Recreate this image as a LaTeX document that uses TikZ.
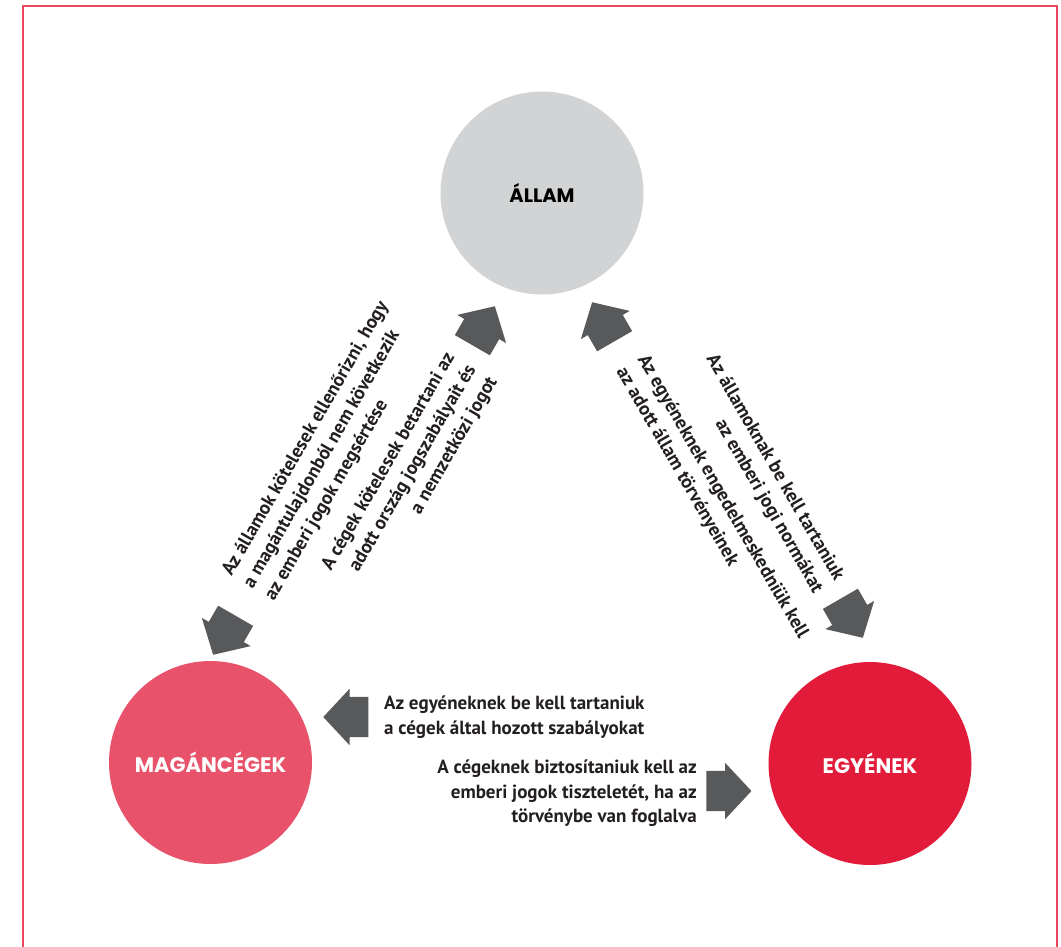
\documentclass[tikz,border=0pt]{standalone}
\usepackage{fontspec}
\setmainfont{PT Sans}
\newfontfamily\circfont{Poppins}
\usetikzlibrary{shapes.arrows}
\definecolor{bordercol}{HTML}{E8475F}
\definecolor{statecol}{HTML}{D1D3D4}
\definecolor{compcol}{HTML}{E8536B}
\definecolor{indivcol}{HTML}{E31B3A}
\definecolor{arrowcol}{HTML}{58595B}
\definecolor{txtcol}{HTML}{231F20}
\begin{document}
\begin{tikzpicture}[x=1pt,y=-1pt,
  actor/.style={circle, minimum size=203pt, inner sep=0pt, font=\circfont\bfseries\fontsize{21}{24}\selectfont},
  blockarrow/.style={single arrow, fill=arrowcol, draw=none, inner xsep=0pt, inner ysep=20pt, minimum height=45pt, single arrow head extend=8pt, single arrow tip angle=94, anchor=tip},
  caption/.style={inner sep=0pt, text=txtcol, font=\bfseries\fontsize{19}{24.5}\selectfont},
]
\useasboundingbox (0,0) rectangle (1061,946);
\fill[white] (0,0) rectangle (1061,946);
\coordinate (bl) at (23,960);
\coordinate (tl) at (23,6);
\coordinate (tr) at (1057,6);
\coordinate (br) at (1057,960);
\draw[bordercol, line width=2pt] (bl) -- (tl) -- (tr) -- (br);

\node[actor, fill=statecol, text=black, font=\circfont\bfseries\fontsize{19.5}{22}\selectfont] (allam) at (542,193) {ÁLLAM};
\node[actor, fill=compcol, text=white] (ceg) at (210.5,762.5) {MAGÁNCÉGEK};
\node[actor, fill=indivcol, text=white] (egyen) at (870,763.5) {EGYÉNEK};

\node[blockarrow, rotate=60] (a1) at (495,306) {};
\node[blockarrow, rotate=240] (a2) at (213,655) {};
\node[blockarrow, rotate=120] (a3) at (592,302) {};
\node[blockarrow, rotate=-60] (a4) at (863,638) {};
\node[blockarrow, rotate=180] (a5) at (323,717) {};
\node[blockarrow] (a6) at (751.7,791) {};

\node[caption, rotate=60, align=left] (t1) at (327,451) {Az államok kötelesek ellenőrizni, hogy\\a magántulajdonból nem következik\\az emberi jogok megsértése};
\node[caption, rotate=60, align=right] (t2) at (410,474) {A cégek kötelesek betartani az\\adott ország jogszabályait és\\a nemzetközi jogot};
\node[caption, rotate=-60, align=left] (t3) at (712,503) {Az egyéneknek engedelmeskedniük kell\\az adott állam törvényeinek};
\node[caption, rotate=-60, align=right] (t4) at (764,474) {Az államoknak be kell tartaniuk\\az emberi jogi normákat};
\node[caption, align=left, anchor=north west] (t5) at (384,696) {Az egyéneknek be kell tartaniuk\\a cégek által hozott szabályokat};
\node[caption, align=right, anchor=north east] (t6) at (697,760) {A cégeknek biztosítaniuk kell az\\emberi jogok tiszteletét, ha az\\törvénybe van foglalva};
\end{tikzpicture}
\end{document}
